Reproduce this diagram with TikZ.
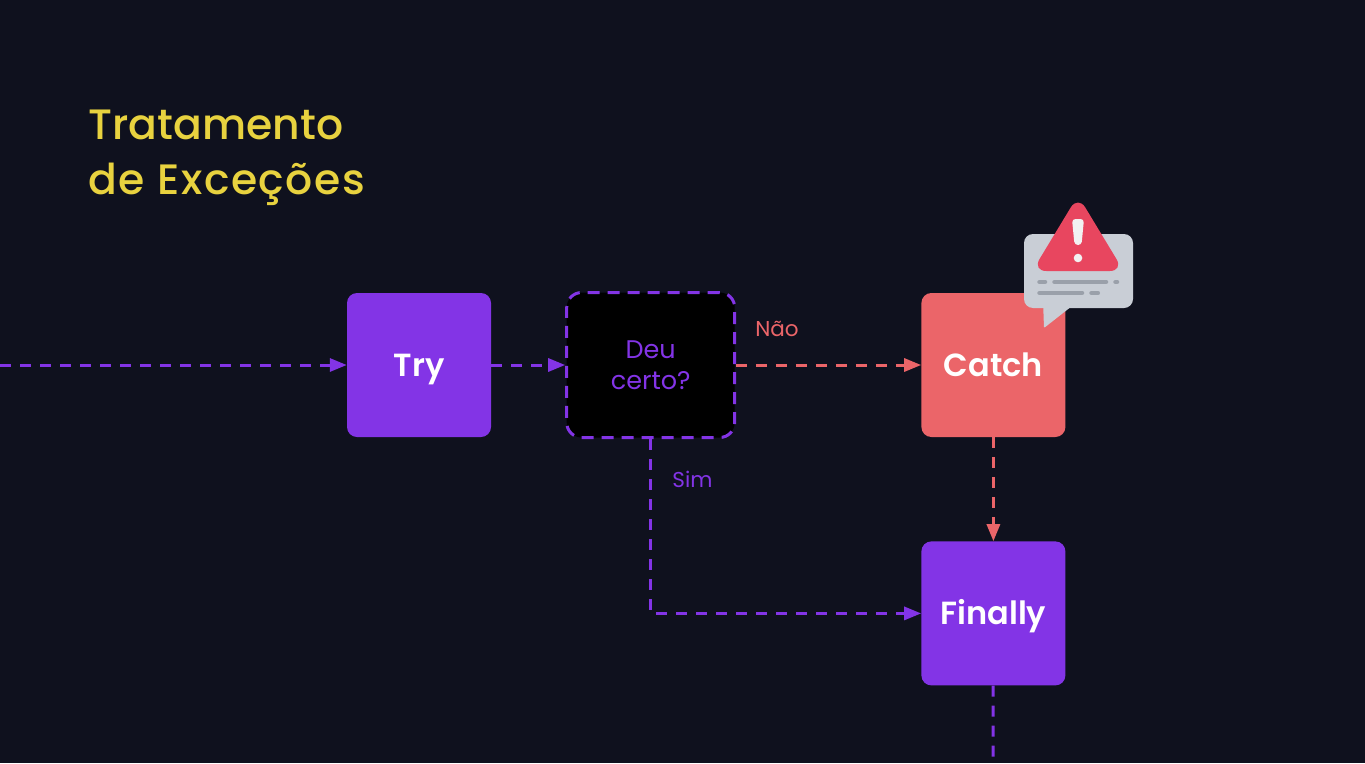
\documentclass[tikz,border=0pt]{standalone}
\usepackage{fontspec}
\setmainfont{Poppins}
\newfontfamily\titlefont{Poppins Medium}
\newfontfamily\boxfont{Poppins SemiBold}
\usetikzlibrary{arrows.meta,positioning}
\definecolor{bgdark}{HTML}{0F111E}
\definecolor{roxo}{HTML}{8334E6}
\definecolor{coral}{HTML}{EB6569}
\definecolor{amarelo}{HTML}{E8D23F}
\definecolor{alerta}{HTML}{E8465F}
\definecolor{balao}{HTML}{C9CED6}
\definecolor{linha}{HTML}{9AA0AA}

\begin{document}
\begin{tikzpicture}[x=1pt,y=1pt]
\tikzstyle{main}=[rectangle, rounded corners=10pt, minimum width=144pt, minimum height=144pt, inner sep=0pt, text height=23pt, text depth=0pt, text=white, font=\fontsize{32}{38}\boxfont]
\tikzstyle{decision}=[rectangle, rounded corners=15pt, minimum width=168pt, minimum height=145pt, inner sep=0pt, align=center, fill=black, draw=roxo, line width=3pt, dash pattern=on 12pt off 8pt, text=roxo, font=\fontsize{25.5}{31}\selectfont]
\tikzstyle{connect}=[-{Triangle[length=17pt,width=13pt]}, line width=3pt, dash pattern=on 11pt off 9pt]
\tikzstyle{tag}=[font=\fontsize{21.5}{26}\selectfont]
\tikzstyle{rule}=[linha, line width=4.5pt, line cap=round]
\fill[bgdark] (0,0) rectangle (1365,-763);
\useasboundingbox (0,0) rectangle (1365,-763);
\node[anchor=north west, align=left, text=amarelo, font=\fontsize{42.5}{55}\titlefont] (title) at (85,-106) {Tratamento\\\addfontfeature{LetterSpace=3.5}de Exceções};
\node[main, fill=roxo] (try) at (419,-365) {Try};
\node[decision, right=74pt of try] (deu) {Deu\\certo?};
\node[main, fill=coral, right=185pt of deu] (catch) {Catch};
\node[main, fill=roxo, below=104pt of catch] (finally) {Finally};
\coordinate (start) at (0,-365);
\coordinate (end) at (993,-763);
\draw[connect, roxo] (start) -- (try);
\draw[connect, roxo] (try) -- (deu);
\draw[connect, coral] (deu) -- (catch);
\draw[connect, coral] (catch) -- (finally);
\draw[connect, roxo] (deu) |- (finally);
\draw[roxo, line width=3pt, dash pattern=on 11pt off 9pt] (finally) -- (end);
\node[tag, text=coral] (nao) at (777,-329) {Não};
\node[tag, text=roxo] (sim) at (692.5,-479) {Sim};
% icone de alerta
\fill[balao, rounded corners=9pt] (1024,-234) rectangle (1133,-308);
\fill[balao, rounded corners=1pt] (1043,-300) -- (1044,-328) -- (1072,-306) -- cycle;
\fill[alerta, rounded corners=14pt] (1078,-195.5) -- (1123.7,-271) -- (1032.3,-271) -- cycle;
\fill[white!95!black, rounded corners=3.4pt] (1072,-219) -- (1084,-219) -- (1081.5,-245) -- (1074.5,-245) -- cycle;
\fill[white!95!black] (1078,-258) circle (4.3pt);
\draw[rule] (1039.5,-282) -- (1045,-282);
\draw[rule] (1054.5,-282) -- (1106,-282);
\draw[rule] (1115.5,-282) -- (1117,-282);
\draw[rule] (1039.5,-293) -- (1082,-293);
\draw[rule] (1091.5,-293) -- (1097.8,-293);
\end{tikzpicture}
\end{document}
